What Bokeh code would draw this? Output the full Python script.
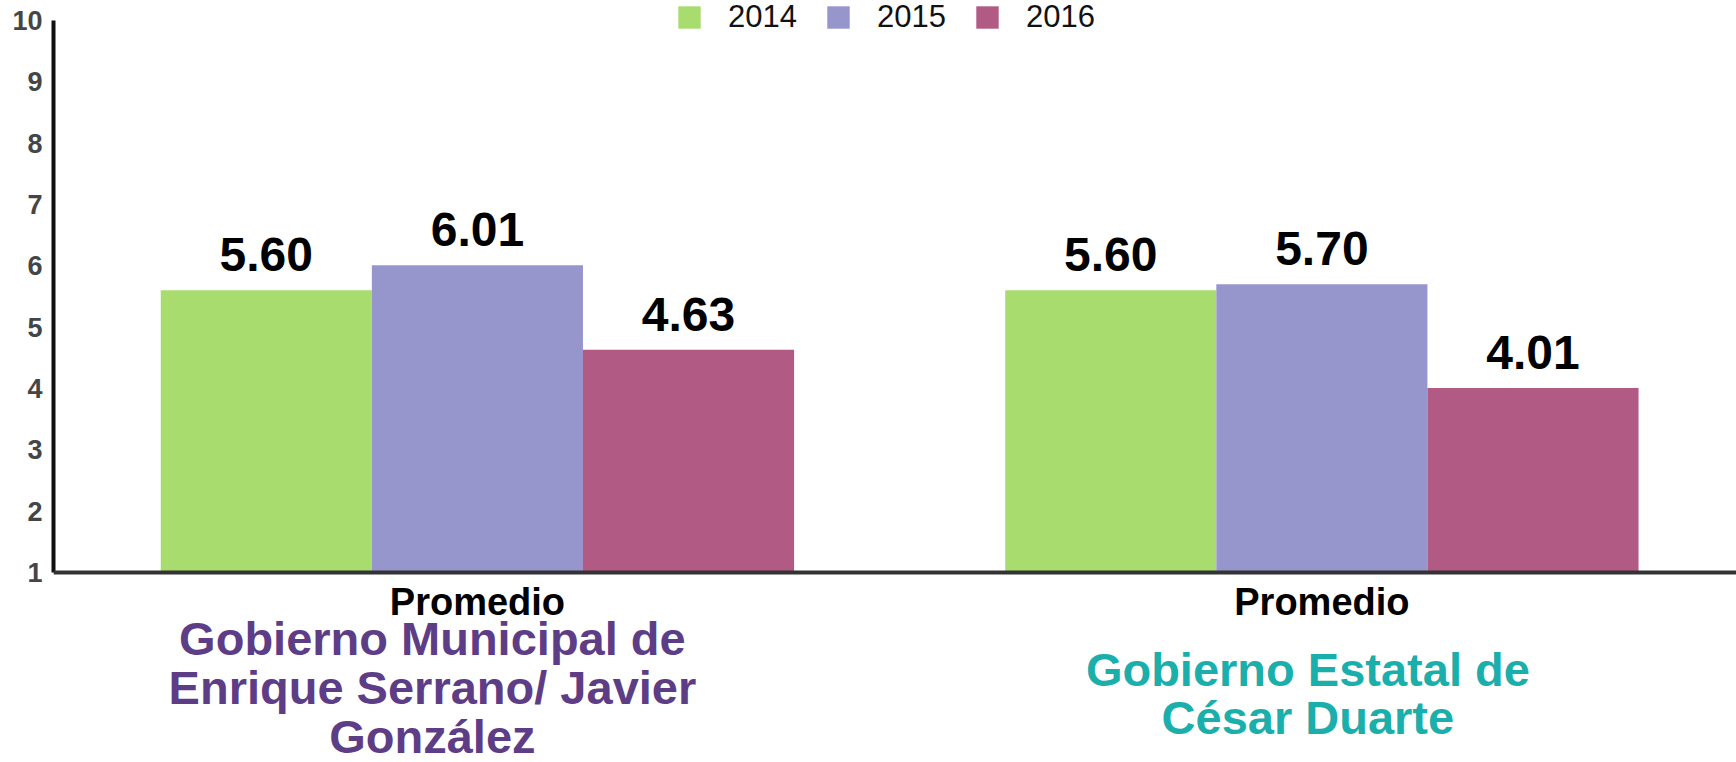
from bokeh.plotting import figure
from bokeh.models import (ColumnDataSource, Range1d, FixedTicker, LabelSet, Label,
                          Legend, LegendItem, Span)
from bokeh.core.properties import value
from bokeh.transform import dodge
from bokeh.embed import file_html
from bokeh.resources import INLINE

# ---------------- data ----------------
years = ["2014", "2015", "2016"]
category_labels = ["Promedio", "Promedio"]
group_names = ["Gobierno Municipal de\nEnrique Serrano/ Javier\nGonzález",
               "Gobierno Estatal de\nCésar Duarte"]
values_municipal = [5.60, 6.01, 4.63]
values_estatal = [5.60, 5.70, 4.01]
y_ticks = [1, 2, 3, 4, 5, 6, 7, 8, 9, 10]

# ---------------- styles ----------------
bar_colors = ["#a8dc6f", "#9696cd", "#b05a84"]
name_colors = ["#5e3d87", "#1aafab"]
offsets = [-0.25, 0.0, 0.25]
FONT = "Liberation Sans"

group_idx = list(range(len(category_labels)))
data = {"x": group_idx}
for i, yr in enumerate(years):
    vals = [values_municipal[i], values_estatal[i]]
    data["y" + yr] = vals
    data["t" + yr] = [f"{v:.2f}" for v in vals]
src = ColumnDataSource(data)

p = figure(x_range=Range1d(-0.502, 1.491), y_range=Range1d(-2.098, 10.326),
           frame_width=1683, frame_height=762,
           min_border_left=53, min_border_right=0, min_border_top=0, min_border_bottom=0,
           output_backend="svg", toolbar_location=None)
p.grid.visible = False
p.outline_line_color = None
p.background_fill_color = "white"
p.border_fill_color = "white"
p.xaxis.visible = False

# y axis
p.yaxis.ticker = FixedTicker(ticks=y_ticks)
p.yaxis.bounds = (1, 10)
p.yaxis.axis_line_width = 4
p.yaxis.axis_line_color = "#111111"
p.yaxis.major_tick_line_color = None
p.yaxis.minor_tick_line_color = None
p.yaxis.major_tick_out = 0
p.yaxis.major_label_standoff = 11
p.yaxis.major_label_text_font = FONT
p.yaxis.major_label_text_font_style = "bold"
p.yaxis.major_label_text_font_size = "27px"
p.yaxis.major_label_text_color = "#454545"

# baseline at y = 1 (category axis line)
p.add_layout(Span(location=1, dimension="width", line_width=4, line_color="#333333"))

items = []
for i, yr in enumerate(years):
    r = p.vbar(x=dodge("x", offsets[i], range=p.x_range), top="y" + yr, bottom=1,
               width=0.25, fill_color=bar_colors[i], line_color=None, source=src)
    items.append(LegendItem(label=yr, renderers=[r]))
    labels = LabelSet(x=dodge("x", offsets[i], range=p.x_range), y="y" + yr, text="t" + yr,
                      source=src, text_align="center", text_baseline="alphabetic",
                      y_offset=19, text_font=value(FONT), text_font_style="bold",
                      text_font_size="48px", text_color="black")
    p.add_layout(labels)

legend = Legend(items=items, orientation="horizontal", location=(622, 727),
                glyph_width=28, glyph_height=28, label_text_font=FONT,
                label_text_font_size="31px", label_text_color="#111111",
                label_standoff=25, spacing=27, padding=0, margin=0,
                border_line_color=None, background_fill_alpha=0)
p.add_layout(legend)

name_dx = [-45, -14]
name_y = [-0.875, -0.973]
for i in group_idx:
    p.add_layout(Label(x=i, y=0.527, text=category_labels[i], text_align="center",
                       text_baseline="middle", text_font=FONT, text_font_style="bold",
                       text_font_size="38px", text_color="black"))
    p.add_layout(Label(x=i, y=name_y[i], x_offset=name_dx[i], text=group_names[i],
                       text_align="center", text_baseline="middle", text_font=FONT,
                       text_font_style="bold", text_font_size="47px",
                       text_line_height=0.92, text_color=name_colors[i]))

open("out.html", "w").write(file_html(p, INLINE))
